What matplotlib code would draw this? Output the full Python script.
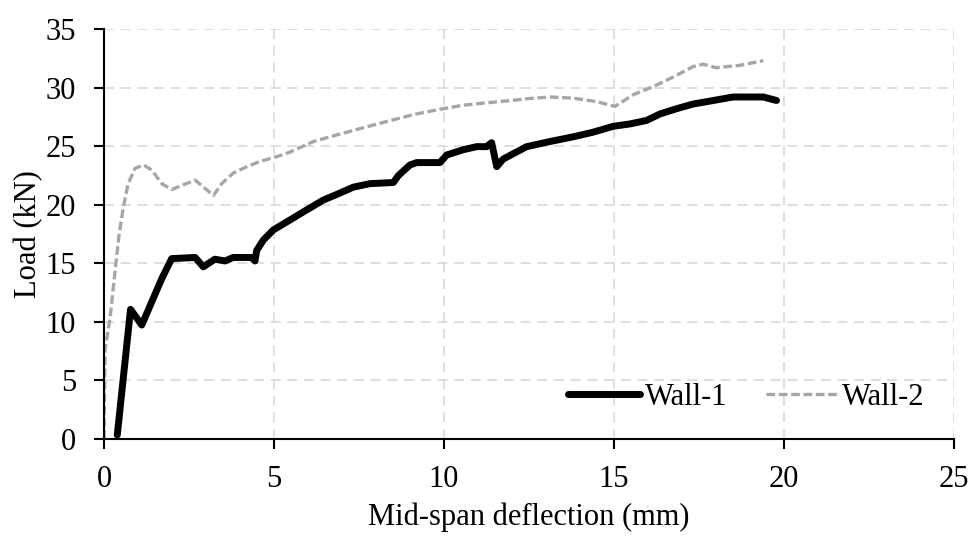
import numpy as np
import matplotlib.pyplot as plt

plt.rcParams['font.family'] = ['Liberation Serif', 'DejaVu Serif']

# Wall-1 (black solid)
wall1_x = [0.39, 0.78, 1.11, 1.70, 1.99, 2.68, 2.92, 3.26, 3.56, 3.80, 4.34, 4.44,
           4.49, 4.69, 4.98, 5.47, 5.96, 6.45, 6.94, 7.33, 7.82, 8.51, 8.66, 9.00,
           9.20, 9.88, 10.08, 10.57, 10.96, 11.25, 11.40, 11.55, 11.74, 12.43, 13.12,
           13.80, 14.39, 14.98, 15.47, 15.96, 16.35, 16.84, 17.33, 17.92, 18.50,
           19.39, 19.78]
wall1_y = [0.34, 11.07, 9.73, 13.7, 15.4, 15.5, 14.7, 15.35, 15.2, 15.5, 15.5, 15.2,
           16.1, 17.0, 17.85, 18.7, 19.56, 20.4, 21.0, 21.5, 21.8, 21.9, 22.5, 23.4,
           23.6, 23.6, 24.25, 24.7, 24.96, 24.96, 25.3, 23.25, 23.9, 24.96, 25.4,
           25.8, 26.2, 26.7, 26.9, 27.2, 27.75, 28.2, 28.6, 28.9, 29.2,
           29.2, 28.9]

# Wall-2 (grey dashed)
wall2_x = [0.0, 0.03, 0.18, 0.35, 0.45, 0.57, 0.71, 0.91, 1.16, 1.40, 1.70, 1.99,
           2.33, 2.68, 2.97, 3.22, 3.46, 3.80, 4.20, 4.59, 5.08, 5.47, 6.16, 6.84,
           7.53, 8.31, 9.10, 9.88, 10.57, 11.25, 12.14, 12.43, 13.12, 13.80, 14.49,
           15.03, 15.57, 16.16, 16.74, 17.33, 17.63, 18.00, 18.70, 19.39]
wall2_y = [0.0, 7.6, 10.4, 15.0, 17.6, 19.8, 21.8, 23.1, 23.4, 22.97, 21.8, 21.3,
           21.7, 22.1, 21.4, 20.8, 21.8, 22.7, 23.25, 23.7, 24.1, 24.5, 25.4, 25.96,
           26.5, 27.1, 27.7, 28.15, 28.5, 28.7, 28.95, 29.05, 29.2, 29.1, 28.8,
           28.4, 29.4, 30.1, 30.9, 31.8, 32.0, 31.7, 31.9, 32.3]

fig = plt.figure(figsize=(9.73, 5.38), dpi=100)
ax = fig.add_axes([0.1069, 0.184, 0.8736, 0.762])

ax.plot(wall1_x, wall1_y, color='black', lw=5, solid_joinstyle='round',
        solid_capstyle='round', label='Wall-1', zorder=3)
ax.plot(wall2_x, wall2_y, color='#a6a6a6', lw=2.4, dashes=(2.6, 1.1),
        label='Wall-2', zorder=3)

ax.set_xlim(0, 25)
ax.set_ylim(0, 35)
ax.set_xticks(range(0, 26, 5))
ax.set_yticks(range(0, 36, 5))
ax.grid(True, color='#d9d9d9', lw=1.2, dashes=(6, 4))
ax.set_axisbelow(True)

for s in ('top', 'right'):
    ax.spines[s].set_visible(False)
for s in ('left', 'bottom'):
    ax.spines[s].set_linewidth(1.5)
    ax.spines[s].set_zorder(4)

ax.tick_params(direction='out', length=7, width=1.5, labelsize=22)
ax.tick_params(axis='x', pad=12)
ax.tick_params(axis='y', pad=13)
ax.set_xlabel('Mid-span deflection (mm)', fontsize=22, labelpad=6)
ax.set_ylabel('Load (kN)', fontsize=22, labelpad=2)

ax.legend(loc='lower right', ncol=2, frameon=False, fontsize=22,
          handlelength=2.35, handletextpad=0.16, columnspacing=1.25,
          bbox_to_anchor=(0.998, 0.0))

fig.savefig('out.png', dpi=100)
